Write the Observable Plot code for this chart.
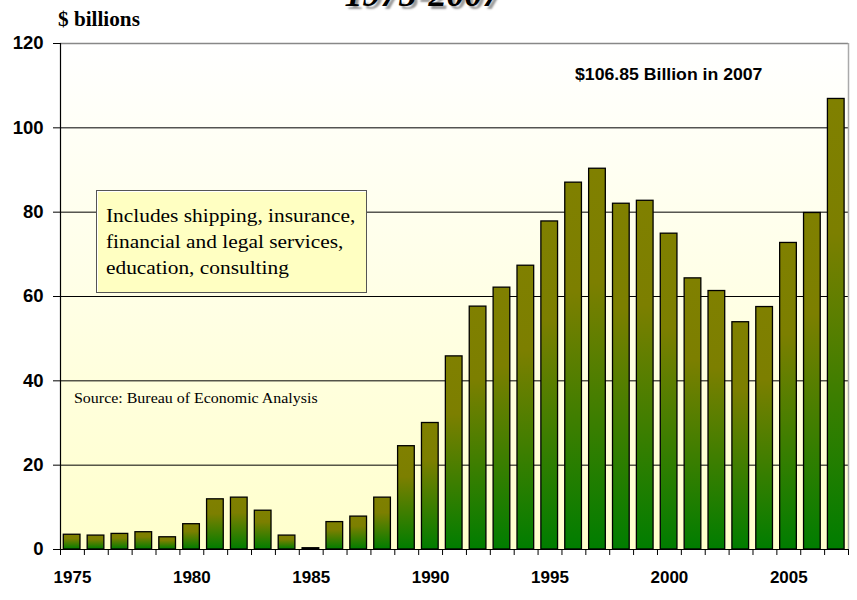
<!DOCTYPE html>
<html>
<head>
<meta charset="utf-8">
<script src="https://cdn.jsdelivr.net/npm/d3@7"></script>
<script src="https://cdn.jsdelivr.net/npm/@observablehq/plot@0.6"></script>
<style>
  body { margin: 0; background: #fff; }
  #wrap { position: relative; width: 857px; height: 600px; overflow: hidden; }
  .ann { position: absolute; white-space: nowrap; line-height: 1; color: #000; transform-origin: 0 0; }
  #title { left: 0; width: 845px; text-align: center; top: -24px; font: italic bold 36px "Liberation Serif", "Times New Roman", serif; line-height: 36px; text-shadow: 3px 3px 2px #999; }
  #unit { left: 58px; top: 8px; font: bold 20px "Liberation Serif", "Times New Roman", serif; transform: scaleX(1.06); }
  #source { left: 74px; top: 390px; font: 14.5px "Liberation Serif", "Times New Roman", serif; transform: scaleX(1.1); }
  #peak { left: 575px; top: 65px; font: bold 16.5px "Liberation Sans", Arial, sans-serif; transform: scaleX(1.07); }
  #box { position: absolute; left: 96px; top: 190px; width: 269px; height: 101px; background: #ffffc2; border: 1.5px solid #555; box-shadow: inset 1px 1px 0 #fff; font: 19px "Liberation Serif", "Times New Roman", serif; line-height: 26px; padding: 0; }
  #box div { position: absolute; left: 9px; top: 12px; white-space: nowrap; transform-origin: 0 0; transform: scaleX(1.125); }
</style>
</head>
<body>
<div id="wrap">
  <div id="chart"></div>
  <div class="ann" id="title">1975-2007</div>
  <div class="ann" id="unit">$ billions</div>
  <div class="ann" id="peak">$106.85 Billion in 2007</div>
  <div class="ann" id="source">Source: Bureau of Economic Analysis</div>
  <div id="box"><div>Includes shipping, insurance,<br>financial and legal services,<br>education, consulting</div></div>
</div>
<script>
const years = d3.range(1975, 2008);
const values = [3.5, 3.3, 3.7, 4.1, 2.9, 6.0, 11.9, 12.3, 9.2, 3.3, 0.3, 6.5, 7.8, 12.3, 24.5, 30.0,
  45.8, 57.6, 62.1, 67.3, 77.8, 87.0, 90.3, 82.0, 82.7, 74.9, 64.3, 61.3, 53.9, 57.5, 72.7, 79.8, 106.85];
const yTicks = [0, 20, 40, 60, 80, 100, 120];
const gridLines = [20, 40, 60, 80, 100];
const xLabelYears = [1975, 1980, 1985, 1990, 1995, 2000, 2005];

const data = years.map((year, i) => ({year, value: values[i]}));
const xMin = years[0] - 0.5, xMax = years[years.length - 1] + 0.5;
const boundaries = [xMin, ...years.map(y => y + 0.5)];

const chart = Plot.plot({
  width: 857,
  height: 600,
  marginLeft: 60,
  marginRight: 9,
  marginTop: 43,
  marginBottom: 51,
  style: {fontFamily: "'Liberation Sans', Arial, sans-serif", fontWeight: "bold", color: "#000", background: "transparent"},
  x: {domain: [xMin, xMax]},
  y: {domain: [0, 120]},
  marks: [
    Plot.frame({fill: "url(#bgGrad)", stroke: null}),
    Plot.ruleY(gridLines, {stroke: "#000", strokeWidth: 1}),
    Plot.ruleY([120], {stroke: "#888", strokeWidth: 1.5}),
    Plot.ruleX([xMax], {stroke: "#aaa", strokeWidth: 1.5}),
    Plot.rectY(data, {
      x1: d => d.year - 0.5, x2: d => d.year + 0.5, y: "value",
      insetLeft: 3.3, insetRight: 3.9,
      fill: "url(#barGrad)", stroke: "#000", strokeWidth: 1.3
    }),
    Plot.ruleX([xMin], {stroke: "#000", strokeWidth: 1.2}),
    Plot.ruleY([0], {stroke: "#000", strokeWidth: 1.2}),
    Plot.axisY({ticks: yTicks, tickSize: 7, tickPadding: 10, fontSize: 18.5, fontWeight: "bold", label: null, tickFormat: d => d}),
    Plot.axisX({ticks: boundaries, tickSize: 6, tickFormat: () => "", label: null}),
    Plot.axisX({ticks: xLabelYears, tickSize: 0, tickPadding: 21, fontSize: 17, fontWeight: "bold", label: null, tickFormat: d => String(d)})
  ]
});

const svg = d3.select(chart);
const defs = svg.insert("defs", ":first-child");
const bg = defs.append("linearGradient").attr("id", "bgGrad").attr("x1", 0).attr("y1", 0).attr("x2", 0).attr("y2", 1);
bg.append("stop").attr("offset", "0%").attr("stop-color", "#ffffff");
bg.append("stop").attr("offset", "100%").attr("stop-color", "#ffffcc");
const bar = defs.append("linearGradient").attr("id", "barGrad").attr("x1", 0).attr("y1", 0).attr("x2", 0).attr("y2", 1);
bar.append("stop").attr("offset", "0%").attr("stop-color", "#808000");
bar.append("stop").attr("offset", "30%").attr("stop-color", "#7c7f00");
bar.append("stop").attr("offset", "100%").attr("stop-color", "#007d00");

document.getElementById("chart").appendChild(chart);
</script>
</body>
</html>
